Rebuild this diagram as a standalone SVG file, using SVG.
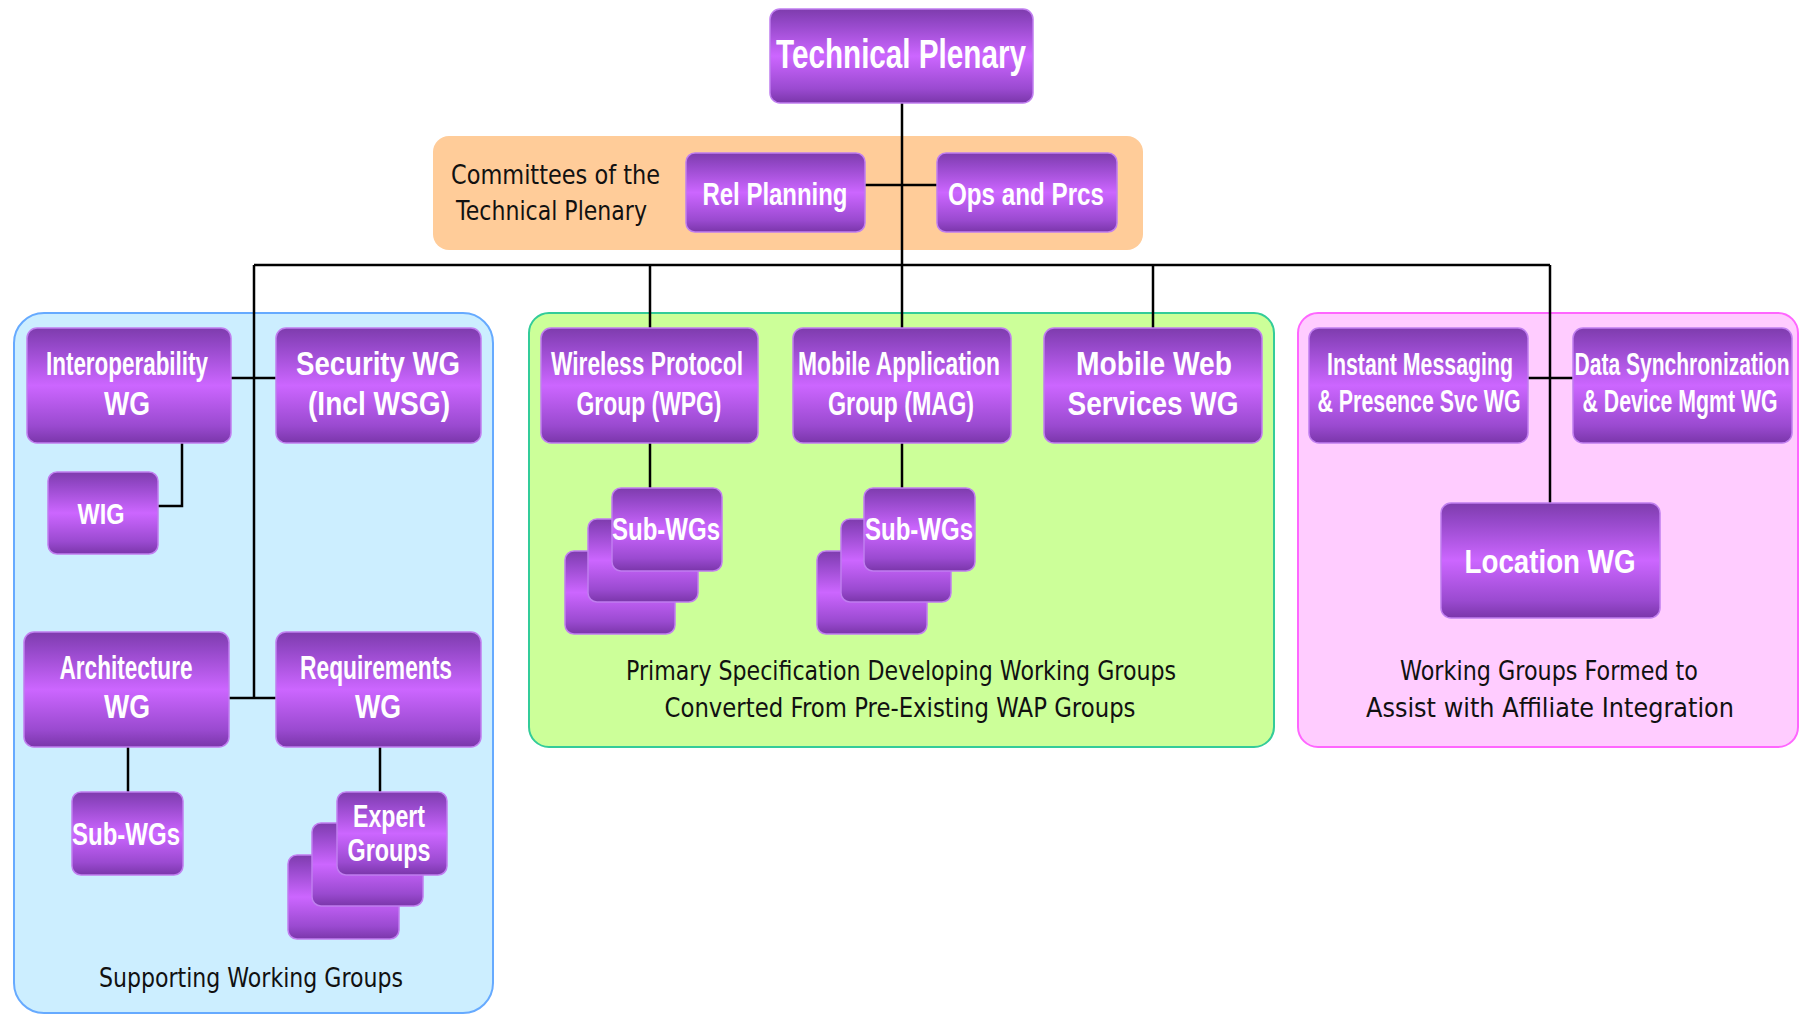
<svg xmlns="http://www.w3.org/2000/svg" width="1801" height="1015" viewBox="0 0 1801 1015">
<defs>
<linearGradient id="pg" x1="0" y1="0" x2="0" y2="1">
<stop offset="0" stop-color="#7e3cad"/>
<stop offset="0.15" stop-color="#9448c8"/>
<stop offset="0.5" stop-color="#cc66ff"/>
<stop offset="0.85" stop-color="#9a4ad0"/>
<stop offset="1" stop-color="#7a36aa"/>
</linearGradient>
<style>
.box{fill:url(#pg);stroke:#c07ef0;stroke-width:1.5}
.nt{font-family:"Liberation Sans Narrow","Liberation Sans",Arial,sans-serif;font-weight:bold;fill:#ffffff;text-anchor:middle}
.lb{font-family:"DejaVu Sans","Liberation Sans",sans-serif;fill:#111111;font-size:27px}
.lbm{text-anchor:middle}
.cn{stroke:#000000;stroke-width:2.5;fill:none}
</style>
</defs>
<rect width="1801" height="1015" fill="#ffffff"/>

<g id="panels">
<rect id="panel-committees" x="433" y="136" width="710" height="114" rx="16" fill="#ffcc99"/>
<rect id="panel-supporting" x="14" y="313" width="479" height="700" rx="30" fill="#cceeff" stroke="#66aaff" stroke-width="2"/>
<rect id="panel-primary" x="529" y="313" width="745" height="434" rx="20" fill="#ccff99" stroke="#33cc99" stroke-width="2"/>
<rect id="panel-affiliate" x="1298" y="313" width="500" height="434" rx="20" fill="#ffccff" stroke="#ff66ff" stroke-width="2"/>
</g>

<g id="panel-labels">
<text class="lb" x="451" y="184" textLength="209" lengthAdjust="spacingAndGlyphs">Committees of the</text>
<text class="lb" x="456" y="220" textLength="191" lengthAdjust="spacingAndGlyphs">Technical Plenary</text>
<text class="lb lbm" x="251" y="987" textLength="304" lengthAdjust="spacingAndGlyphs">Supporting Working Groups</text>
<text class="lb lbm" x="901" y="680" textLength="550" lengthAdjust="spacingAndGlyphs">Primary Specification Developing Working Groups</text>
<text class="lb lbm" x="900" y="717" textLength="471" lengthAdjust="spacingAndGlyphs">Converted From Pre-Existing WAP Groups</text>
<text class="lb lbm" x="1549" y="680" textLength="298" lengthAdjust="spacingAndGlyphs">Working Groups Formed to</text>
<text class="lb lbm" x="1550" y="717" textLength="368" lengthAdjust="spacingAndGlyphs">Assist with Affiliate Integration</text>
</g>

<g id="connectors">
<line class="cn" x1="902" y1="103" x2="902" y2="328"/>
<line class="cn" x1="865" y1="185" x2="937" y2="185"/>
<line class="cn" x1="254" y1="265" x2="1550" y2="265"/>
<line class="cn" x1="254" y1="265" x2="254" y2="698"/>
<line class="cn" x1="231" y1="378" x2="276" y2="378"/>
<line class="cn" x1="229" y1="698" x2="276" y2="698"/>
<polyline class="cn" points="182,443 182,506 158,506"/>
<line class="cn" x1="128" y1="747" x2="128" y2="792"/>
<line class="cn" x1="380" y1="747" x2="380" y2="792"/>
<line class="cn" x1="650" y1="265" x2="650" y2="328"/>
<line class="cn" x1="650" y1="443" x2="650" y2="488"/>
<line class="cn" x1="902" y1="443" x2="902" y2="488"/>
<line class="cn" x1="1153" y1="265" x2="1153" y2="328"/>
<line class="cn" x1="1550" y1="265" x2="1550" y2="503"/>
<line class="cn" x1="1528" y1="378" x2="1573" y2="378"/>
</g>

<g id="technical-plenary">
<rect class="box" x="770" y="9" width="263" height="94" rx="10"/>
<text class="nt" x="901" y="68" font-size="40" textLength="250" lengthAdjust="spacingAndGlyphs">Technical Plenary</text>
</g>
<g id="rel-planning">
<rect class="box" x="686" y="153" width="179" height="79" rx="9"/>
<text class="nt" x="775" y="205" font-size="31" textLength="145" lengthAdjust="spacingAndGlyphs">Rel Planning</text>
</g>
<g id="ops-and-prcs">
<rect class="box" x="937" y="153" width="180" height="79" rx="9"/>
<text class="nt" x="1026" y="205" font-size="31" textLength="156" lengthAdjust="spacingAndGlyphs">Ops and Prcs</text>
</g>

<g id="interoperability-wg">
<rect class="box" x="27" y="328" width="204" height="115" rx="10"/>
<text class="nt" x="127" y="375" font-size="33" textLength="162" lengthAdjust="spacingAndGlyphs">Interoperability</text>
<text class="nt" x="127" y="415" font-size="33" textLength="46" lengthAdjust="spacingAndGlyphs">WG</text>
</g>
<g id="security-wg">
<rect class="box" x="276" y="328" width="205" height="115" rx="10"/>
<text class="nt" x="378" y="375" font-size="33" textLength="164" lengthAdjust="spacingAndGlyphs">Security WG</text>
<text class="nt" x="379" y="415" font-size="33" textLength="142" lengthAdjust="spacingAndGlyphs">(Incl WSG)</text>
</g>
<g id="wig">
<rect class="box" x="48" y="472" width="110" height="82" rx="9"/>
<text class="nt" x="101" y="524" font-size="30" textLength="47" lengthAdjust="spacingAndGlyphs">WIG</text>
</g>
<g id="architecture-wg">
<rect class="box" x="24" y="632" width="205" height="115" rx="10"/>
<text class="nt" x="126" y="679" font-size="33" textLength="133" lengthAdjust="spacingAndGlyphs">Architecture</text>
<text class="nt" x="127" y="718" font-size="33" textLength="46" lengthAdjust="spacingAndGlyphs">WG</text>
</g>
<g id="requirements-wg">
<rect class="box" x="276" y="632" width="205" height="115" rx="10"/>
<text class="nt" x="376" y="679" font-size="33" textLength="152" lengthAdjust="spacingAndGlyphs">Requirements</text>
<text class="nt" x="378" y="718" font-size="33" textLength="46" lengthAdjust="spacingAndGlyphs">WG</text>
</g>
<g id="arch-sub-wgs">
<rect class="box" x="72" y="792" width="111" height="83" rx="9"/>
<text class="nt" x="126" y="845" font-size="31" textLength="108" lengthAdjust="spacingAndGlyphs">Sub-WGs</text>
</g>
<g id="expert-groups">
<rect class="box" x="288" y="855" width="111" height="84" rx="9"/>
<rect class="box" x="312" y="823" width="111" height="83" rx="9"/>
<rect class="box" x="337" y="792" width="110" height="83" rx="9"/>
<text class="nt" x="389" y="827" font-size="31" textLength="72" lengthAdjust="spacingAndGlyphs">Expert</text>
<text class="nt" x="389" y="861" font-size="31" textLength="83" lengthAdjust="spacingAndGlyphs">Groups</text>
</g>

<g id="wpg">
<rect class="box" x="541" y="328" width="217" height="115" rx="10"/>
<text class="nt" transform="translate(647,375) scale(1,1.5)" x="0" y="0" font-size="22" textLength="192" lengthAdjust="spacingAndGlyphs">Wireless Protocol</text>
<text class="nt" x="649" y="415" font-size="33" textLength="145" lengthAdjust="spacingAndGlyphs">Group (WPG)</text>
</g>
<g id="mag">
<rect class="box" x="793" y="328" width="218" height="115" rx="10"/>
<text class="nt" transform="translate(899,375) scale(1,1.5)" x="0" y="0" font-size="22" textLength="202" lengthAdjust="spacingAndGlyphs">Mobile Application</text>
<text class="nt" x="901" y="415" font-size="33" textLength="146" lengthAdjust="spacingAndGlyphs">Group (MAG)</text>
</g>
<g id="mobile-web-services-wg">
<rect class="box" x="1044" y="328" width="218" height="115" rx="10"/>
<text class="nt" x="1154" y="375" font-size="33" textLength="156" lengthAdjust="spacingAndGlyphs">Mobile Web</text>
<text class="nt" x="1153" y="415" font-size="33" textLength="171" lengthAdjust="spacingAndGlyphs">Services WG</text>
</g>
<g id="wpg-sub-wgs">
<rect class="box" x="565" y="551" width="110" height="83" rx="9"/>
<rect class="box" x="588" y="519" width="110" height="83" rx="9"/>
<rect class="box" x="612" y="488" width="110" height="83" rx="9"/>
<text class="nt" x="666" y="540" font-size="31" textLength="108" lengthAdjust="spacingAndGlyphs">Sub-WGs</text>
</g>
<g id="mag-sub-wgs">
<rect class="box" x="817" y="551" width="110" height="83" rx="9"/>
<rect class="box" x="841" y="519" width="110" height="83" rx="9"/>
<rect class="box" x="864" y="488" width="111" height="83" rx="9"/>
<text class="nt" x="919" y="540" font-size="31" textLength="108" lengthAdjust="spacingAndGlyphs">Sub-WGs</text>
</g>

<g id="instant-messaging-wg">
<rect class="box" x="1309" y="328" width="219" height="115" rx="10"/>
<text class="nt" transform="translate(1420,375) scale(1,1.476)" x="0" y="0" font-size="21" textLength="186" lengthAdjust="spacingAndGlyphs">Instant Messaging</text>
<text class="nt" transform="translate(1419,412) scale(1,1.476)" x="0" y="0" font-size="21" textLength="203" lengthAdjust="spacingAndGlyphs">&amp; Presence Svc WG</text>
</g>
<g id="data-sync-wg">
<rect class="box" x="1573" y="328" width="219" height="115" rx="10"/>
<text class="nt" transform="translate(1682,375) scale(1,1.476)" x="0" y="0" font-size="21" textLength="215" lengthAdjust="spacingAndGlyphs">Data Synchronization</text>
<text class="nt" transform="translate(1680,412) scale(1,1.476)" x="0" y="0" font-size="21" textLength="195" lengthAdjust="spacingAndGlyphs">&amp; Device Mgmt WG</text>
</g>
<g id="location-wg">
<rect class="box" x="1441" y="503" width="219" height="115" rx="10"/>
<text class="nt" x="1550" y="573" font-size="34" textLength="171" lengthAdjust="spacingAndGlyphs">Location WG</text>
</g>
</svg>
